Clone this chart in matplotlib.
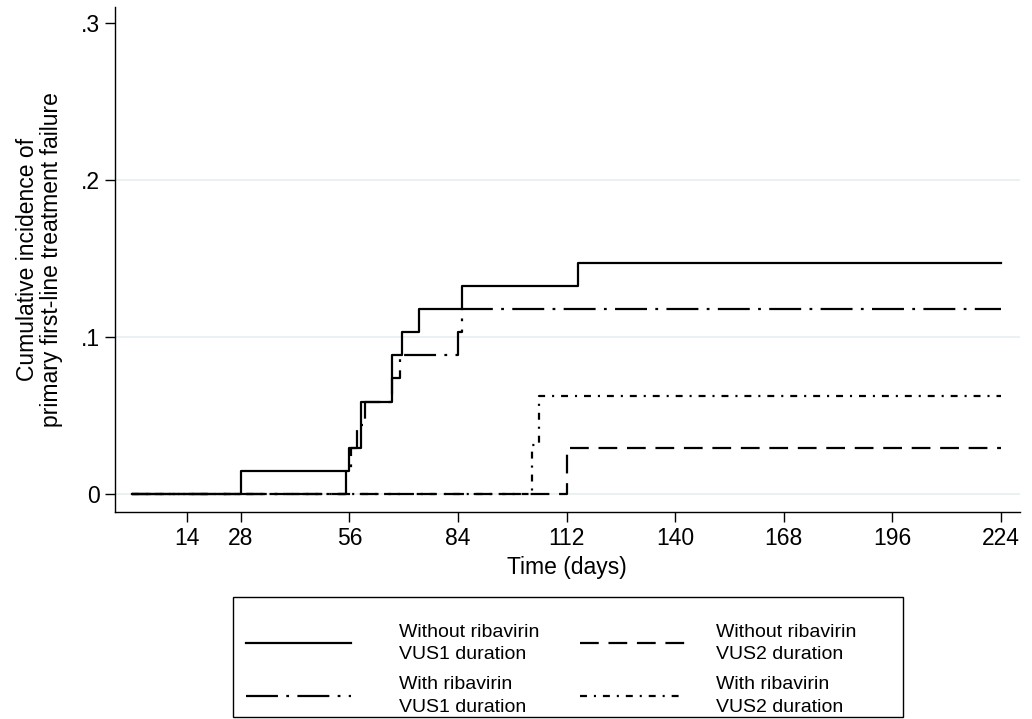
import matplotlib
matplotlib.use("Agg")
import matplotlib.pyplot as plt
from matplotlib.patches import Rectangle

plt.rcParams['font.family'] = ['Liberation Sans', 'DejaVu Sans']
plt.rcParams['lines.scale_dashes'] = False

# step times (days) and cumulative incidence for each group
t_wo_vus1 = [0, 28, 56, 59, 67, 69.5, 74, 85, 115, 224]
y_wo_vus1 = [0, .0147, .0294, .0588, .0882, .1029, .1176, .1324, .1471, .1471]

t_wo_vus2 = [0, 112, 224]
y_wo_vus2 = [0, .0294, .0294]

t_w_vus1 = [0, 55, 56.5, 58, 60, 67, 69, 84, 85, 224]
y_w_vus1 = [0, .0147, .0294, .0441, .0588, .0735, .0882, .1029, .1176, .1176]

t_w_vus2 = [0, 103, 105, 224]
y_w_vus2 = [0, .031, .0625, .0625]

xticks = [14, 28, 56, 84, 112, 140, 168, 196, 224]
yticks = [0, .1, .2, .3]
ytick_labels = ['0', '.1', '.2', '.3']

fig = plt.figure(figsize=(10.32, 7.19), dpi=100)
ax = fig.add_axes([0.1114, 0.288, 0.8766, 0.702])

for g in [0, .1, .2]:
    ax.axhline(g, color='#e6eff1', lw=1.2, zorder=0)

lw = 1.6
l1, = ax.step(t_wo_vus1, y_wo_vus1, where='post', color='black', lw=lw)
l2, = ax.step(t_wo_vus2, y_wo_vus2, where='post', color='black', lw=lw,
              linestyle=(0, (13.5, 7)))
l3, = ax.step(t_w_vus1, y_w_vus1, where='post', color='black', lw=lw,
              linestyle=(0, (23, 6, 2, 6)))
l4, = ax.step(t_w_vus2, y_w_vus2, where='post', color='black', lw=lw,
              linestyle=(0, (5, 5, 1.5, 5)))

ax.set_xlim(-4.5, 228.9)
ax.set_ylim(-0.0115, 0.310)
ax.set_xticks(xticks)
ax.set_yticks(yticks)
ax.set_yticklabels(ytick_labels)
ax.tick_params(axis='both', labelsize=16.5, length=7, width=1, pad=4)
for s in ['top', 'right']:
    ax.spines[s].set_visible(False)
for s in ['left', 'bottom']:
    ax.spines[s].set_linewidth(1)

ax.set_xlabel('Time (days)', fontsize=16.5, labelpad=4)
ax.set_ylabel('Cumulative incidence of\nprimary first-line treatment failure',
              fontsize=16.5, labelpad=13, linespacing=1.05)

# legend: two columns, each its own legend, one shared frame
W, H = 1032, 719
opts = dict(loc='upper left', fontsize=14, frameon=False, handlelength=5.4,
            labelspacing=0.65, borderpad=0, borderaxespad=0)
leg1 = fig.legend([l1, l3], ['Without ribavirin\nVUS1 duration', 'With ribavirin\nVUS1 duration'],
                  bbox_to_anchor=(246 / W, 1 - 624 / H), handletextpad=2.45, **opts)
leg2 = fig.legend([l2, l4], ['Without ribavirin\nVUS2 duration', 'With ribavirin\nVUS2 duration'],
                  bbox_to_anchor=(580 / W, 1 - 624 / H), handletextpad=1.6, **opts)
for leg in [leg1, leg2]:
    for t in leg.get_texts():
        t.set_linespacing(1.42)
fig.add_artist(Rectangle((233 / W, 1 - 717 / H), 670 / W, 120 / H, transform=fig.transFigure,
                         fill=False, edgecolor='black', lw=1))

fig.savefig('out.png', dpi=100, facecolor='white')
